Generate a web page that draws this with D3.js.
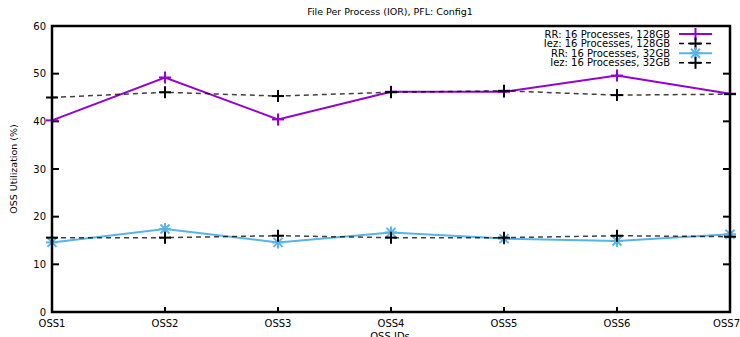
<!DOCTYPE html>
<html>
<head>
<meta charset="utf-8">
<script src="https://cdn.jsdelivr.net/npm/d3@7"></script>
<style>
  body { margin: 0; background: #fff; }
  text { font-family: "DejaVu Sans", "Liberation Sans", sans-serif; fill: #000; }
</style>
</head>
<body>
<svg id="chart" width="740" height="337"></svg>
<script>
// values
var categories = ["OSS1", "OSS2", "OSS3", "OSS4", "OSS5", "OSS6", "OSS7"];
var rr128  = [40.2, 49.2, 40.4, 46.2, 46.2, 49.6, 45.8];
var iez128 = [45.0, 46.1, 45.3, 46.1, 46.4, 45.5, 45.7];
var rr32   = [14.6, 17.4, 14.6, 16.7, 15.4, 14.9, 16.3];
var iez32  = [15.6, 15.6, 16.0, 15.6, 15.6, 16.0, 15.8];
var yTicks = [0, 10, 20, 30, 40, 50, 60];

var series = [
  { name: "RR: 16 Processes, 128GB",  values: rr128,  color: "#9400d3", dash: null,  mark: "plus" },
  { name: "Iez: 16 Processes, 128GB", values: iez128, color: "#000000", dash: "5,4", mark: "plus" },
  { name: "RR: 16 Processes, 32GB",   values: rr32,   color: "#56b4e9", dash: null,  mark: "star" },
  { name: "Iez: 16 Processes, 32GB",  values: iez32,  color: "#000000", dash: "5,4", mark: "plus" }
];

// plot box (note: "top" is taken by window.top, so use a prefix)
var pLeft = 52, pRight = 730, pTop = 26, pBottom = 312;

var svg = d3.select("#chart");

var x = d3.scalePoint().domain(categories).range([pLeft, pRight]);
var y = d3.scaleLinear().domain([0, 60]).range([pBottom, pTop]);

// title
svg.append("text")
  .attr("x", 390).attr("y", 15)
  .attr("text-anchor", "middle")
  .style("font-size", "9.5px")
  .text("File Per Process (IOR), PFL: Config1");

// y axis labels + inward ticks on both sides
var yAxis = svg.append("g");
yTicks.forEach(function(t) {
  yAxis.append("text")
    .attr("x", pLeft - 6).attr("y", y(t) + 3.5)
    .attr("text-anchor", "end")
    .style("font-size", "10px")
    .text(t);
  yAxis.append("line")
    .attr("x1", pLeft).attr("x2", pLeft + 7)
    .attr("y1", y(t)).attr("y2", y(t))
    .attr("stroke", "#000").attr("stroke-width", 2);
  yAxis.append("line")
    .attr("x1", pRight).attr("x2", pRight - 7)
    .attr("y1", y(t)).attr("y2", y(t))
    .attr("stroke", "#000").attr("stroke-width", 2);
});

// x axis labels + inward ticks
categories.forEach(function(c, i) {
  var last = i === categories.length - 1;
  svg.append("text")
    .attr("x", last ? 740 : x(c)).attr("y", pBottom + 15)
    .attr("text-anchor", last ? "end" : "middle")
    .style("font-size", "10px")
    .text(c);
  svg.append("line")
    .attr("x1", x(c)).attr("x2", x(c))
    .attr("y1", pBottom).attr("y2", pBottom - 5)
    .attr("stroke", "#000").attr("stroke-width", 2);
});

// axis titles
svg.append("text")
  .attr("x", 390).attr("y", pBottom + 28)
  .attr("text-anchor", "middle")
  .style("font-size", "10px")
  .text("OSS IDs");

svg.append("text")
  .attr("transform", "translate(17," + ((pTop + pBottom) / 2) + ") rotate(-90)")
  .attr("text-anchor", "middle")
  .style("font-size", "9.5px")
  .text("OSS Utilization (%)");

// markers
function drawMark(g, cx, cy, kind, color, s) {
  var lines = [[-s, 0, s, 0], [0, -s, 0, s]];
  if (kind === "star") {
    var d = s * 0.75;
    lines.push([-d, -d, d, d], [-d, d, d, -d]);
  }
  lines.forEach(function(l) {
    g.append("line")
      .attr("x1", cx + l[0]).attr("y1", cy + l[1])
      .attr("x2", cx + l[2]).attr("y2", cy + l[3])
      .attr("stroke", color).attr("stroke-width", 2);
  });
}

var line = d3.line()
  .x(function(d, i) { return x(categories[i]); })
  .y(function(d) { return y(d); });

series.forEach(function(s) {
  var g = svg.append("g");
  g.append("path")
    .datum(s.values)
    .attr("d", line)
    .attr("fill", "none")
    .attr("stroke", s.color)
    .attr("stroke-width", s.dash ? 1.5 : 2)
    .attr("stroke-opacity", s.dash ? 0.75 : 1)
    .attr("stroke-dasharray", s.dash);
  s.values.forEach(function(v, i) {
    drawMark(g, x(categories[i]), y(v), s.mark, s.color, 6);
  });
});

// frame
svg.append("rect")
  .attr("x", pLeft).attr("y", pTop)
  .attr("width", pRight - pLeft).attr("height", pBottom - pTop)
  .attr("fill", "none")
  .attr("stroke", "#000").attr("stroke-width", 2.5);

// legend
var legend = svg.append("g");
series.forEach(function(s, i) {
  var ly = 34 + i * 9.6;
  legend.append("text")
    .attr("x", 670).attr("y", ly + 3.5)
    .attr("text-anchor", "end")
    .style("font-size", "10px")
    .text(s.name);
  legend.append("line")
    .attr("x1", 679).attr("x2", 712)
    .attr("y1", ly).attr("y2", ly)
    .attr("stroke", s.color)
    .attr("stroke-width", s.dash ? 1.5 : 2)
    .attr("stroke-dasharray", s.dash);
  drawMark(legend, 695.5, ly, s.mark, s.color, 6);
});
</script>
</body>
</html>
